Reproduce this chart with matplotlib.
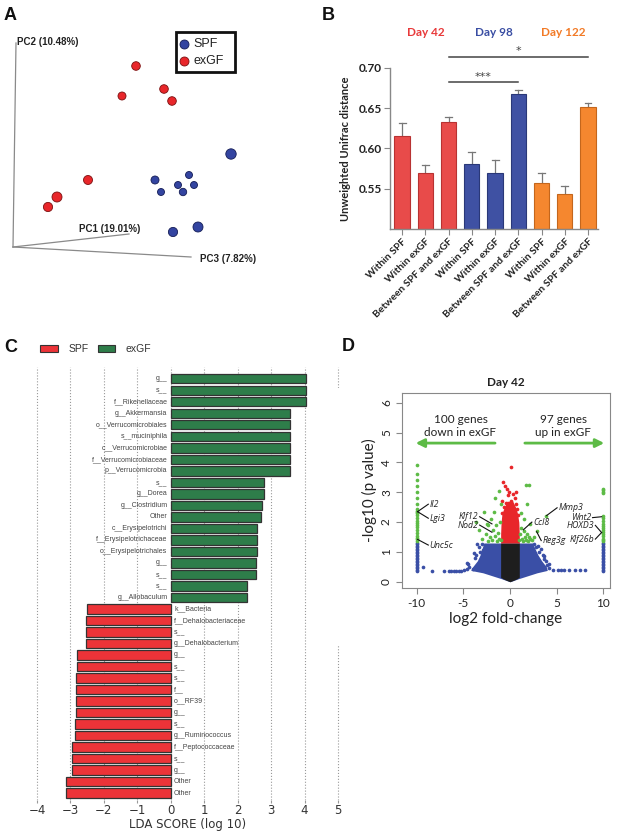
import matplotlib
matplotlib.use('Agg')
import matplotlib.pyplot as plt
from matplotlib.patches import Rectangle

W, H = 624, 835
fig = plt.figure(figsize=(6.24, 8.35), dpi=100)


def rect(l, t, r, b):
    return [l / W, 1 - b / H, (r - l) / W, (b - t) / H]


def ftxt(x, y, s, **kw):
    fig.text(x / W, 1 - y / H, s, **kw)

# ---------------- DATA ----------------
# Panel A: projected PCoA coordinates (screen frame of the 3D view)
spf_x = [231, 155, 189, 178, 194, 161, 183, 173, 198]
spf_y = [154, 180, 175, 185, 185, 192, 192, 232, 227]
spf_r = [5.2, 4.0, 3.5, 3.5, 3.5, 3.5, 3.7, 4.6, 5.0]
exgf_x = [136, 164, 172, 122, 88, 57, 48]
exgf_y = [66, 89, 101, 96, 180, 197, 207]
exgf_r = [4.3, 4.3, 4.3, 4.0, 4.5, 5.0, 4.6]
pc_labels = ['PC1 (19.01%)', 'PC2 (10.48%)', 'PC3 (7.82%)']

# Panel B
b_days = ['Day 42', 'Day 98', 'Day 122']
b_cats = ['Within SPF', 'Within exGF', 'Between SPF and exGF'] * 3
b_means = [0.615, 0.569, 0.633, 0.581, 0.569, 0.668, 0.557, 0.543, 0.652]
b_sem = [0.017, 0.011, 0.006, 0.015, 0.017, 0.005, 0.012, 0.011, 0.005]

# Panel C (LEfSe)
c_green_labels = ['g__', 's__', 'f__Rikenellaceae', 'g__Akkermansia', 'o__Verrucomicrobiales',
                  's__muciniphila', 'c__Verrucomicrobiae', 'f__Verrucomicrobiaceae',
                  'p__Verrucomicrobia', 's__', 'g__Dorea', 'g__Clostridium', 'Other',
                  'c__Erysipelotrichi', 'f__Erysipelotrichaceae', 'o__Erysipelotrichales',
                  'g__', 's__', 's__', 'g__Allobaculum']
c_green_vals = [4.03, 4.03, 4.03, 3.58, 3.58, 3.58, 3.58, 3.58, 3.58, 2.79, 2.79, 2.73, 2.71,
                2.58, 2.58, 2.58, 2.55, 2.55, 2.27, 2.27]
c_red_labels = ['k__Bacteria', 'f__Dehalobacteriaceae', 's__', 'g__Dehalobacterium', 'g__',
                's__', 's__', 'f__', 'o__RF39', 'g__', 's__', 'g__Ruminococcus',
                'f__Peptococcaceae', 's__', 'g__', 'Other', 'Other']
c_red_vals = [-2.52, -2.55, -2.55, -2.55, -2.79, -2.79, -2.84, -2.84, -2.84, -2.84, -2.86,
              -2.86, -2.95, -2.95, -2.95, -3.14, -3.14]

# Panel D (volcano)
green_col_left_y = [3.9, 3.62, 3.42, 3.22, 3.0, 2.82, 2.6, 2.45, 2.38, 2.34, 2.3, 2.25, 2.15,
                    2.05, 1.98, 1.9, 1.82, 1.72, 1.62, 1.55, 1.48, 1.42, 1.38]
green_col_right_y = [3.12, 3.07, 3.02, 2.97, 2.2, 2.15, 2.05, 1.95, 1.88, 1.8, 1.72, 1.66,
                     1.6, 1.52, 1.45, 1.4, 1.36]
blue_col_y = [0.35, 0.4, 0.45, 0.5, 0.55, 0.6, 0.65, 0.7, 0.75, 0.8, 0.85, 0.9, 0.95, 1.0,
              1.05, 1.1, 1.15, 1.2, 1.25, 1.3]
blue_sparse_x = [-9.3, -8.3, -7.1, -6.5, -6.3, -6.0, -5.8, -5.5, -5.2, -4.9, -4.6, -4.4, -4.57,
                 -4.0, 4.2, 4.6, 5.1, 5.5, 5.8, 6.3, 7.0, 7.5, 8.0, 4.0, 3.9, -3.5, -3.2,
                 -3.7, -4.5, 3.5, 3.3, 4.2, -3.0, 2.6, 3.0, -2.2, -3.9, 3.7, -3.3, -2.9,
                 3.1, 2.8, -3.6, 3.6]
blue_sparse_y = [0.5, 0.37, 0.37, 0.37, 0.37, 0.37, 0.37, 0.37, 0.37, 0.41, 0.44, 0.5, 0.62,
                 0.42, 0.45, 0.4, 0.4, 0.4, 0.4, 0.4, 0.4, 0.4, 0.4, 0.55, 0.7, 1.25, 1.0,
                 0.8, 0.6, 0.9, 1.1, 0.6, 1.28, 1.25, 1.2, 1.2, 0.95, 0.75, 1.15, 1.05,
                 1.0, 1.15, 0.9, 0.85]
blue_env_y = [0.0, 0.1, 0.2, 0.3, 0.38, 0.5, 0.7, 0.9, 1.1, 1.3]
blue_env_left = [0.0, -0.9, -1.9, -2.9, -4.2, -4.0, -3.5, -3.2, -3.0, -2.8]
blue_env_right = [0.0, 0.9, 1.9, 2.9, 4.0, 3.9, 3.4, 3.0, 2.7, 2.4]
black_env_y = [0.0, 0.05, 0.1, 0.15, 1.3]
black_env_left = [0.0, -0.4, -0.75, -1.0, -1.0]
black_env_right = [0.0, 0.4, 0.75, 1.0, 1.0]
red_env_y = [1.3, 1.6, 2.0, 2.3, 2.5, 2.7]
red_env_left = [-1.0, -1.0, -0.95, -0.85, -0.6, -0.3]
red_env_right = [1.0, 1.0, 0.95, 0.8, 0.6, 0.3]
red_sparse_x = [0.07, -0.7, -0.5, -0.3, 0.3, -0.2, 0.5, -0.8, 0.6, -0.4, 0.2, 0.8, -0.6, 0.4,
                -0.9, 0.9, -0.1, 0.1, -0.3, 0.6]
red_sparse_y = [3.85, 3.35, 3.2, 3.1, 2.95, 2.9, 2.8, 2.7, 2.6, 2.65, 2.55, 2.45, 2.5, 2.4,
                2.3, 2.25, 3.0, 2.7, 2.45, 3.0]
green_x = [-3.6, -3.3, -3.0, -2.8, -2.6, -2.4, -2.3, -2.1, -2.0, -1.9, -1.8, -1.7, -1.6, -1.5,
           -1.4, -1.3, -1.2, -1.1, -1.0, -1.6, -1.2, -2.5, 1.0, 1.1, 1.2, 1.3, 1.4, 1.5, 1.6,
           1.7, 1.8, 1.9, 2.0, 2.2, 2.4, 2.6, 1.7, 2.0, 1.8, 3.9, 2.9, 1.5, 1.2, -0.95, 2.2]
green_y = [2.0, 1.75, 1.45, 2.35, 1.6, 1.9, 1.35, 1.5, 2.1, 1.4, 1.75, 2.35, 1.55, 1.9, 1.35,
           1.65, 1.45, 2.0, 1.4, 2.8, 3.05, 1.95, 1.4, 1.6, 1.8, 1.45, 1.35, 1.7, 1.5, 1.4,
           1.6, 1.35, 1.5, 1.45, 1.4, 1.5, 3.25, 3.25, 2.6, 2.22, 1.7, 2.1, 2.3, 2.6, 1.95]
genes = ['Il2', 'Lgi3', 'Unc5c', 'Klf12', 'Nod2', 'Ccl8', 'Reg3g', 'Mmp3', 'Wnt2', 'HOXD3', 'Klf26b']
gene_text_x = [-8.6, -8.6, -8.6, -3.4, -3.4, 2.5, 3.5, 5.2, 8.7, 9.0, 9.0]
gene_text_y = [2.6, 2.13, 1.23, 2.18, 1.9, 2.0, 1.38, 2.48, 2.15, 1.89, 1.43]
gene_pt_x = [-9.9, -9.9, -9.9, -1.93, -1.93, 1.43, 2.86, 3.93, 9.82, 9.82, 9.82]
gene_pt_y = [2.35, 2.35, 1.42, 1.94, 1.66, 1.74, 1.68, 2.22, 2.18, 1.65, 1.65]
gene_ha = ['left', 'left', 'left', 'right', 'right', 'left', 'left', 'left', 'right', 'right', 'right']
n_down, n_up = 100, 97

# ---------------- PANEL A ----------------
axA = fig.add_axes(rect(0, 0, 310, 290))
axA.set_xlim(0, 310)
axA.set_ylim(290, 0)
axA.axis('off')
ox, oy = 13, 247
for ex, ey in [(16, 43), (129, 234), (191, 257)]:
    axA.plot([ox, ex], [oy, ey], color='#8a8a8a', lw=0.9)
axA.text(17, 42, pc_labels[1], fontsize=7, fontweight='bold', va='center', family='Liberation Sans', color='#222')
axA.text(79, 229, pc_labels[0], fontsize=7, fontweight='bold', va='center', family='Liberation Sans', color='#222')
axA.text(200, 259, pc_labels[2], fontsize=7, fontweight='bold', va='center', family='Liberation Sans', color='#222')
axA.scatter(exgf_x, exgf_y, s=[(2 * r * 0.72) ** 2 for r in exgf_r], color='#e8262a',
            edgecolor='#7a1010', linewidth=0.6, zorder=3)
axA.scatter(spf_x, spf_y, s=[(2 * r * 0.72) ** 2 for r in spf_r], color='#3344a0',
            edgecolor='#141c55', linewidth=0.6, zorder=3)
axA.add_patch(Rectangle((176, 32), 59, 40, fill=False, lw=2, edgecolor='#111'))
axA.scatter([184], [44], s=42, color='#3344a0', edgecolor='#141c55', linewidth=0.6)
axA.scatter([184], [61], s=42, color='#e8262a', edgecolor='#7a1010', linewidth=0.6)
axA.text(193, 44, 'SPF', fontsize=9, va='center', family='Liberation Sans', color='#222')
axA.text(193, 61, 'exGF', fontsize=9, va='center', family='Liberation Sans', color='#222')

# ---------------- PANEL B ----------------
day_colors = ['#e84b4a', '#3f51a3', '#f5872f']
day_text_colors = ['#e8393a', '#3a4ea3', '#f27a26']
edge_colors = ['#b83232', '#2a3878', '#c4661c']
axB = fig.add_axes(rect(390, 68, 598, 229))
xs = list(range(len(b_means)))
cols = [day_colors[i // 3] for i in xs]
ecols = [edge_colors[i // 3] for i in xs]
axB.bar(xs, [m - 0.5 for m in b_means], bottom=0.5, width=0.66, color=cols, edgecolor=ecols,
        linewidth=0.8, zorder=2)
for i in xs:
    top = b_means[i] + b_sem[i]
    axB.plot([i, i], [b_means[i], top], color='#777', lw=0.9, zorder=1)
    axB.plot([i - 0.15, i + 0.15], [top, top], color='#777', lw=0.9, zorder=1)
axB.set_xlim(-0.52, 8.43)
axB.set_ylim(0.5, 0.70)
axB.set_yticks([0.55, 0.60, 0.65, 0.70])
axB.set_yticklabels(['0.55', '0.60', '0.65', '0.70'], fontsize=8.5, fontweight='bold', family='Lato', color='#222')
axB.set_xticks(xs)
axB.set_xticklabels(b_cats, rotation=45, ha='right', rotation_mode='anchor', fontsize=7.4,
                    fontweight='bold', family='Lato', color='#222')
for sp in ['top', 'right']:
    axB.spines[sp].set_visible(False)
for sp in ['left', 'bottom']:
    axB.spines[sp].set_color('#888')
    axB.spines[sp].set_linewidth(1)
axB.tick_params(axis='both', color='#888', length=4, width=0.8, pad=2)
axB.set_ylabel('Unweighted Unifrac distance', fontsize=8, family='Lato', fontweight='bold', color='#222', labelpad=5)
axB.plot([2, 5], [0.682, 0.682], color='#444', lw=1.1, clip_on=False)
axB.text(3.5, 0.683, '***', ha='center', va='bottom', fontsize=8, color='#444', clip_on=False)
axB.plot([2, 8], [0.7135, 0.7135], color='#444', lw=1.1, clip_on=False)
axB.text(5, 0.7145, '*', ha='center', va='bottom', fontsize=8, color='#444', clip_on=False)
for i, (d, c) in enumerate(zip(b_days, day_text_colors)):
    ftxt([426, 494, 563][i], 32, d, ha='center', va='center', fontsize=8.5, fontweight='bold',
         family='Lato', color=c)

# ---------------- PANEL C ----------------
axC = fig.add_axes(rect(27, 367, 348, 800))
labels_all = c_green_labels + c_red_labels
vals_all = c_green_vals + c_red_vals
n = len(vals_all)
ypos = list(range(n))
ccols = ['#2e7d4a'] * len(c_green_vals) + ['#ec3338'] * len(c_red_vals)
axC.barh(ypos, vals_all, height=0.82, color=ccols, edgecolor='#333', linewidth=0.9, zorder=3)
for y, v, lab in zip(ypos, vals_all, labels_all):
    if v > 0:
        axC.text(-0.1, y, lab, ha='right', va='center', fontsize=5, color='#444', family='Liberation Sans', zorder=4)
    else:
        axC.text(0.1, y, lab, ha='left', va='center', fontsize=5, color='#444', family='Liberation Sans', zorder=4)
axC.set_xlim(-4.3, 5.3)
axC.set_ylim(36.6, -1.02)
axC.set_xticks(range(-4, 6))
axC.set_xticklabels([str(t).replace('-', '\u2212') for t in range(-4, 6)], fontsize=8.5, family='DejaVu Sans', color='#333')
axC.set_yticks([])
for sp in axC.spines.values():
    sp.set_visible(False)
axC.grid(axis='x', linestyle=':', color='#999', linewidth=0.8, zorder=0)
axC.tick_params(axis='x', length=2, color='#999', pad=1)
axC.set_xlabel('LDA SCORE (log 10)', fontsize=8.5, family='DejaVu Sans', color='#333', labelpad=0.5)
fig.add_artist(Rectangle((40 / W, 1 - 352 / H), 18 / W, 7 / H, transform=fig.transFigure,
                         facecolor='#ec3338', edgecolor='#333', lw=0.8))
ftxt(69, 349, 'SPF', fontsize=7.5, va='center', family='Liberation Sans', color='#333')
fig.add_artist(Rectangle((98 / W, 1 - 352 / H), 17 / W, 7 / H, transform=fig.transFigure,
                         facecolor='#2e7d4a', edgecolor='#333', lw=0.8))
ftxt(125, 349, 'exGF', fontsize=7.5, va='center', family='Liberation Sans', color='#333')

# ---------------- PANEL D ----------------
cover = fig.add_axes(rect(337, 388, 624, 645), zorder=1)
cover.set_facecolor('white')
cover.set_xticks([])
cover.set_yticks([])
for sp in cover.spines.values():
    sp.set_visible(False)

axD = fig.add_axes(rect(401.7, 393, 610, 588), zorder=2)
blue_c, black_c, red_c, green_c = '#3a4fa6', '#1e1e1e', '#e8262a', '#5dbb46'
ds = 7
axD.fill_betweenx(blue_env_y, blue_env_left, blue_env_right, color=blue_c, lw=0, zorder=1)
axD.scatter(blue_sparse_x, blue_sparse_y, s=ds, color=blue_c, lw=0, zorder=1)
axD.scatter([-10] * len(blue_col_y), blue_col_y, s=ds, color=blue_c, lw=0, zorder=1)
axD.scatter([10] * len(blue_col_y), blue_col_y, s=ds, color=blue_c, lw=0, zorder=1)
axD.fill_betweenx(black_env_y, black_env_left, black_env_right, color=black_c, lw=0, zorder=2)
axD.fill_betweenx(red_env_y, red_env_left, red_env_right, color=red_c, lw=0, zorder=2)
axD.scatter(red_sparse_x, red_sparse_y, s=ds, color=red_c, lw=0, zorder=2)
axD.scatter(green_x, green_y, s=ds, color=green_c, lw=0, zorder=2)
axD.scatter([-10] * len(green_col_left_y), green_col_left_y, s=ds, color=green_c, lw=0, zorder=2)
axD.scatter([10] * len(green_col_right_y), green_col_right_y, s=ds, color=green_c, lw=0, zorder=2)
for g, tx, ty, px, py, ha in zip(genes, gene_text_x, gene_text_y, gene_pt_x, gene_pt_y, gene_ha):
    lx = tx - 0.15 if ha == 'left' else tx + 0.15
    axD.plot([px, lx], [py, ty], color='#111', lw=0.8, zorder=3)
    axD.text(tx, ty, g, ha=ha, va='center', fontsize=6.3, style='italic', family='Open Sans', color='#222', zorder=4)
axD.annotate('', xy=(-10.4, 4.65), xytext=(-1.3, 4.65),
             arrowprops=dict(arrowstyle='-|>,head_length=0.5,head_width=0.25', color=green_c, lw=2))
axD.annotate('', xy=(10.4, 4.65), xytext=(1.3, 4.65),
             arrowprops=dict(arrowstyle='-|>,head_length=0.5,head_width=0.25', color=green_c, lw=2))
axD.text(-5.3, 5.22, f'{n_down} genes\ndown in exGF', ha='center', va='center', fontsize=8.5,
         family='Lato', color='#222', linespacing=1.15)
axD.text(5.7, 5.22, f'{n_up} genes\nup in exGF', ha='center', va='center', fontsize=8.5,
         family='Lato', color='#222', linespacing=1.15)
axD.set_xlim(-11.6, 10.72)
axD.set_ylim(-0.21, 6.33)
axD.set_xticks([-10, -5, 0, 5, 10])
axD.set_xticklabels(['-10', '-5', '0', '5', '10'], fontsize=8.5, family='Lato', color='#222')
axD.set_yticks(range(7))
axD.set_yticklabels([str(i) for i in range(7)], fontsize=8.5, family='Lato', color='#222',
                    rotation=90, va='center')
for sp in axD.spines.values():
    sp.set_color('#888')
    sp.set_linewidth(0.8)
axD.tick_params(axis='both', color='#888', length=4, width=0.8, pad=3)
axD.set_xlabel('log2 fold-change', fontsize=11, family='Lato', color='#222', labelpad=2)
axD.set_ylabel('-log10 (p value)', fontsize=11, family='Lato', color='#222', labelpad=3)
axD.set_title('Day 42', fontsize=8.5, fontweight='bold', family='Lato', color='#222', pad=5)

# panel letters
for letter, x, y in [('A', 4, 15), ('B', 322, 15), ('C', 4, 347), ('D', 342, 346)]:
    ftxt(x, y, letter, fontsize=13, fontweight='bold', va='center', family='Liberation Sans', color='#111')

fig.savefig('out.png', dpi=100)
